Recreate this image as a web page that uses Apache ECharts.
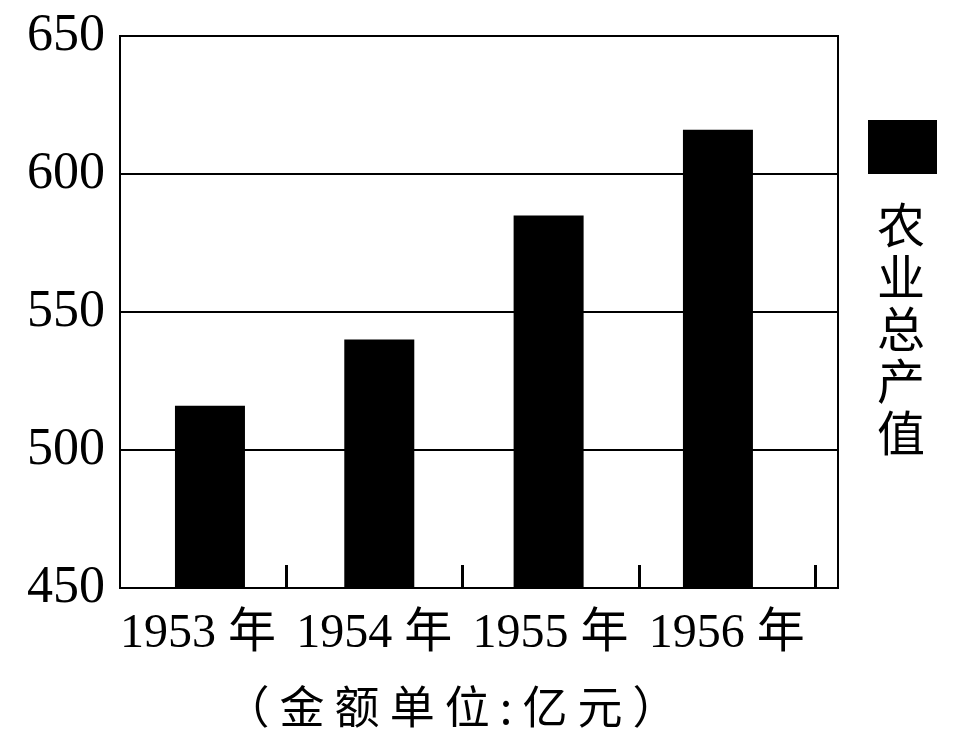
<!DOCTYPE html>
<html>
<head>
<meta charset="utf-8">
<script src="https://cdn.jsdelivr.net/npm/echarts@6/dist/echarts.min.js"></script>
<style>
html,body{margin:0;padding:0;background:#fff;}
#main{width:953px;height:756px;}
</style>
</head>
<body>
<div id="main"></div>
<script>
var years = ['1953', '1954', '1955', '1956'];
var yearLabels = ['1953 年', '1954 年', '1955 年', '1956 年'];
var outputValues = [516, 540, 585, 616];
var seriesName = '农业总产值';
var unitNote = '（ 金 额 单 位 : 亿 元 ）';
var yMin = 450, yMax = 650, yStep = 50;

var chart = echarts.init(document.getElementById('main'), null, {renderer: 'canvas'});
var serif = '"Liberation Serif", "Noto Sans CJK SC", serif';
var cjk = '"Noto Sans CJK SC", sans-serif';

chart.setOption({
  backgroundColor: '#fff',
  animation: false,
  grid: [
    {left: 120, top: 36, width: 718, height: 552, show: true, borderColor: '#000', borderWidth: 2, backgroundColor: 'transparent', containLabel: false},
    {left: 125.3, top: 36, width: 677.3, height: 552, containLabel: false},
    {left: 110, top: 36, width: 705, height: 552, containLabel: false}
  ],
  xAxis: [
    {gridIndex: 0, type: 'category', data: years, show: false},
    {gridIndex: 1, type: 'category', data: years, show: false},
    {gridIndex: 2, type: 'category', data: yearLabels, position: 'bottom',
      axisLine: {show: false},
      axisTick: {show: true, inside: true, length: 23, lineStyle: {color: '#000', width: 3},
        interval: function (i) { return i > 0; }},
      axisLabel: {show: true, interval: 0, margin: 22, color: '#000', fontSize: 48, fontFamily: serif},
      splitLine: {show: false}}
  ],
  yAxis: [
    {gridIndex: 0, type: 'value', min: yMin, max: yMax, interval: yStep,
      axisLine: {show: true, lineStyle: {color: '#000', width: 2}},
      axisTick: {show: false},
      axisLabel: {margin: 15, color: '#000', fontSize: 52, fontFamily: serif},
      splitLine: {show: true, lineStyle: {color: '#000', width: 2}}},
    {gridIndex: 1, type: 'value', min: yMin, max: yMax, interval: yStep, show: false, splitLine: {show: false}},
    {gridIndex: 2, type: 'value', min: yMin, max: yMax, interval: yStep, show: false, splitLine: {show: false}}
  ],
  legend: {
    show: true, left: 863, top: 115, orient: 'vertical', selectedMode: false,
    icon: 'rect', itemWidth: 69, itemHeight: 54, itemGap: 0,
    formatter: function () { return ''; },
    data: [seriesName]
  },
  series: [{
    name: seriesName, type: 'bar', xAxisIndex: 1, yAxisIndex: 1,
    data: outputValues, barWidth: 70,
    itemStyle: {color: '#000'}
  }],
  graphic: [
    {type: 'text', left: 877, top: 199, z: 10,
      style: {text: seriesName.split('').join('\n'), fontSize: 48, lineHeight: 52, fontFamily: cjk, fill: '#000'}},
    {type: 'text', x: 451, y: 707, z: 10,
      style: {text: unitNote, fontSize: 45, fontFamily: cjk, fill: '#000', align: 'center', verticalAlign: 'middle'}}
  ]
});
</script>
</body>
</html>
